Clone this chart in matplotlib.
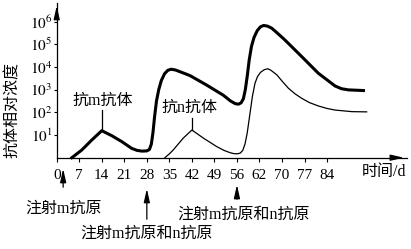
import matplotlib
matplotlib.use("Agg")
import matplotlib.pyplot as plt

plt.rcParams['font.family'] = ['Liberation Serif', 'Noto Sans CJK SC', 'DejaVu Sans']
plt.rcParams['mathtext.fontset'] = 'stix'

# days and log10 of relative concentration
m_days = [4.7, 7.8, 10.9, 14.0, 17.1, 20.2, 23.3, 25.0, 26.5, 28.0, 28.8, 29.4, 29.9,
          30.4, 31.0, 31.7, 32.5, 33.5, 34.5, 35.5, 36.8, 38.5, 41.4, 46.6, 51.8,
          54.0, 55.5, 56.5, 57.3, 58.0, 58.6, 59.2, 59.8, 60.5, 61.3, 62.3, 63.3,
          64.3, 65.5, 66.8, 68.5, 70.9, 76.1, 81.3, 86.5, 88.5, 90.6, 95.3]
m_log = [0.0, 0.34, 0.78, 1.19, 0.97, 0.71, 0.41, 0.32, 0.29, 0.30, 0.36, 0.6, 1.1,
         1.8, 2.5, 3.0, 3.4, 3.7, 3.85, 3.9, 3.87, 3.78, 3.62, 3.2, 2.75,
         2.5, 2.38, 2.36, 2.42, 2.6, 3.0, 3.6, 4.3, 4.9, 5.3, 5.6, 5.77,
         5.83, 5.8, 5.71, 5.5, 5.19, 4.46, 3.72, 3.16, 3.04, 2.99, 2.96]

n_days = [33.6, 35.0, 36.2, 39.3, 42.0, 45.6, 49.7, 52.0, 53.9, 55.0, 56.0, 57.0,
          57.8, 58.5, 59.2, 60.0, 60.8, 61.6, 62.4, 63.3, 64.5, 65.6, 66.6, 68.4,
          70.0, 72.0, 74.0, 76.1, 78.5, 81.3, 84.0, 86.5, 91.7, 96.3]
n_log = [0.0, 0.17, 0.34, 0.86, 1.22, 0.86, 0.49, 0.32, 0.22, 0.18, 0.17, 0.2,
         0.32, 0.6, 1.1, 1.9, 2.7, 3.28, 3.58, 3.76, 3.88, 3.92, 3.85, 3.65,
         3.38, 3.06, 2.82, 2.62, 2.43, 2.28, 2.17, 2.1, 2.03, 2.02]

x_ticks = [0, 7, 14, 21, 28, 35, 42, 49, 56, 63, 70, 77, 84]
x_labels = ['0', '7', '14', '21', '28', '35', '42', '49', '56', '62', '70', '77', '84']
y_ticks = [1, 2, 3, 4, 5, 6]

m_vals = [10 ** v for v in m_log]
n_vals = [10 ** v for v in n_log]

fig = plt.figure(figsize=(4.11, 2.49), dpi=100)
ax = fig.add_axes([0.138, 0.3667, 0.852, 0.6213])

ax.plot(m_days, m_vals, color='black', lw=2.2, solid_joinstyle='round', clip_on=False)
ax.plot(n_days, n_vals, color='black', lw=0.9, solid_joinstyle='round', clip_on=False)

ax.set_yscale('log')
ax.set_xlim(0, 108.8)
ax.set_ylim(1, 10 ** 6.82)
ax.minorticks_off()
ax.set_yticks([10 ** k for k in y_ticks])
ax.set_yticklabels(['$10^{%d}$' % k for k in y_ticks], fontsize=11)
ax.set_xticks(x_ticks)
ax.set_xticklabels(x_labels, fontsize=11)
ax.tick_params(axis='x', direction='out', length=3, width=0.8, pad=5)
ax.tick_params(axis='y', direction='out', length=2.2, width=0.8, pad=1)

for s in ['top', 'right']:
    ax.spines[s].set_visible(False)
for s in ['left', 'bottom']:
    ax.spines[s].set_linewidth(0.9)

# axis arrows
ax.annotate('', xy=(1, 0), xytext=(0.95, 0), xycoords='axes fraction',
            arrowprops=dict(arrowstyle='-|>,head_length=0.8,head_width=0.18', color='k', lw=0.9))
ax.annotate('', xy=(0, 1), xytext=(0, 0.92), xycoords='axes fraction',
            arrowprops=dict(arrowstyle='-|>,head_length=0.8,head_width=0.18', color='k', lw=0.9))

fig.text(0.032, 0.558, '抗体相对浓度', rotation=90, ha='center', va='center', fontsize=11.5)
fig.text(0.934, 0.31, '时间/d', ha='center', va='center', fontsize=11.5)

# peak labels
ax.plot([14, 14], [10 ** 1.22, 10 ** 2.1], color='k', lw=0.9)
ax.text(14.4, 10 ** 2.5, '抗m抗体', ha='center', va='center', fontsize=11.5)
ax.plot([41.9, 41.9], [10 ** 1.22, 10 ** 1.75], color='k', lw=0.9)
ax.text(41.4, 10 ** 2.21, '抗n抗体', ha='center', va='center', fontsize=11.5)

# injection arrows under the axis
inject_days = [2.0, 28.0, 56.0]
inject_text = ['注射m抗原', '注射m抗原和n抗原', '注射m抗原和n抗原']
arrow_tail = [190, 222, 202]
arrow_head = [166, 186, 182]
text_pos = [(2.0, 209), (28.0, 234), (58.2, 215)]
for d, t, yt, yh, (tx, ty) in zip(inject_days, inject_text, arrow_tail, arrow_head, text_pos):
    ax.annotate('', xy=(d, 1 - yh / 249), xytext=(d, 1 - yt / 249),
                xycoords=('data', 'figure fraction'),
                arrowprops=dict(arrowstyle='-|>,head_length=0.8,head_width=0.18', color='k', lw=0.9))
    ax.annotate(t, xy=(tx, 1 - ty / 249), xycoords=('data', 'figure fraction'),
                ha='center', va='center', fontsize=11.5, annotation_clip=False)

fig.savefig('out.png', dpi=100)
